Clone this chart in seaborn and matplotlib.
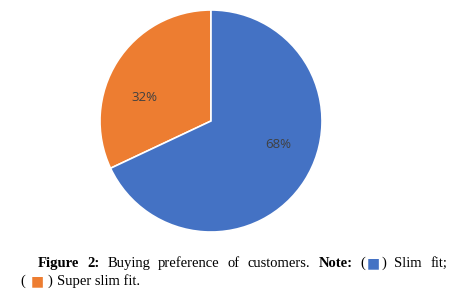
import matplotlib
matplotlib.use("Agg")
import matplotlib.pyplot as plt
import seaborn as sns
import numpy as np

categories = ["Super slim fit", "Slim fit"]
shares = [32, 68]
colors = ["#ED7D31", "#4472C4"]

sns.set_theme(style="white")
plt.rcParams['font.family'] = ['DejaVu Sans']

W, H = 451, 295
fig = plt.figure(figsize=(W / 100, H / 100), dpi=100)
fig.patch.set_facecolor("white")

cx, cy, r = 211, 121, 111
ax = fig.add_axes([(cx - r) / W, 1 - (cy + r) / H, 2 * r / W, 2 * r / H])
wedges, texts, autotexts = ax.pie(
    shares, colors=colors, startangle=90, counterclock=True,
    autopct="%d%%", pctdistance=0.63,
    wedgeprops=dict(edgecolor="white", linewidth=1.2),
    textprops=dict(color="#404040", fontsize=9.5, family="Open Sans"))
# label placement rotated slightly (as in the reference layout)
label_offset_deg = 13
for w, t in zip(wedges, autotexts):
    ang = np.deg2rad((w.theta1 + w.theta2) / 2 + label_offset_deg)
    t.set_position((0.64 * np.cos(ang), 0.64 * np.sin(ang)))
ax.set_xlim(-1, 1)
ax.set_ylim(-1, 1)
ax.set_aspect("equal")
ax.axis("off")

# caption
serif = "Liberation Serif"
fs = 10.5


def px(x, y):
    return x / W, 1 - y / H


renderer = fig.canvas.get_renderer()


def make(txt, bold=False, color="black", family=serif, size=fs):
    t = fig.text(0, 0, txt, fontsize=size, family=family,
                 fontweight="bold" if bold else "normal", color=color,
                 ha="left", va="baseline")
    return t


def width(t):
    return t.get_window_extent(renderer).width


sq = "\u25A0"
line1 = [
    [make("Figure", True)], [make("2:", True)], [make("Buying")],
    [make("preference")], [make("of")], [make("customers.")],
    [make("Note:", True)],
    [make("("), make(sq, color=colors[1], family="DejaVu Sans", size=10), make(")")],
    [make("Slim")], [make("fit;")],
]
x0, x1, base1 = 37.7, 447, 267
inner_gap = 1.5
wwidths = []
for word in line1:
    wwidths.append(sum(width(p) for p in word) + inner_gap * (len(word) - 1))
gap = (x1 - x0 - sum(wwidths)) / (len(line1) - 1)
x = x0
for word, ww in zip(line1, wwidths):
    xx = x
    for p in word:
        p.set_position(px(xx, base1))
        xx += width(p) + inner_gap
    x += ww + gap

line2 = [make("("), make(sq, color=colors[0], family="DejaVu Sans", size=10),
         make(")"), make("Super slim fit.")]
gaps2 = [5, 4, 5]
x, base2 = 20.5, 285
for i, p in enumerate(line2):
    p.set_position(px(x, base2))
    x += width(p) + (gaps2[i] if i < len(gaps2) else 0)

fig.savefig("out.png", dpi=100, facecolor="white")
